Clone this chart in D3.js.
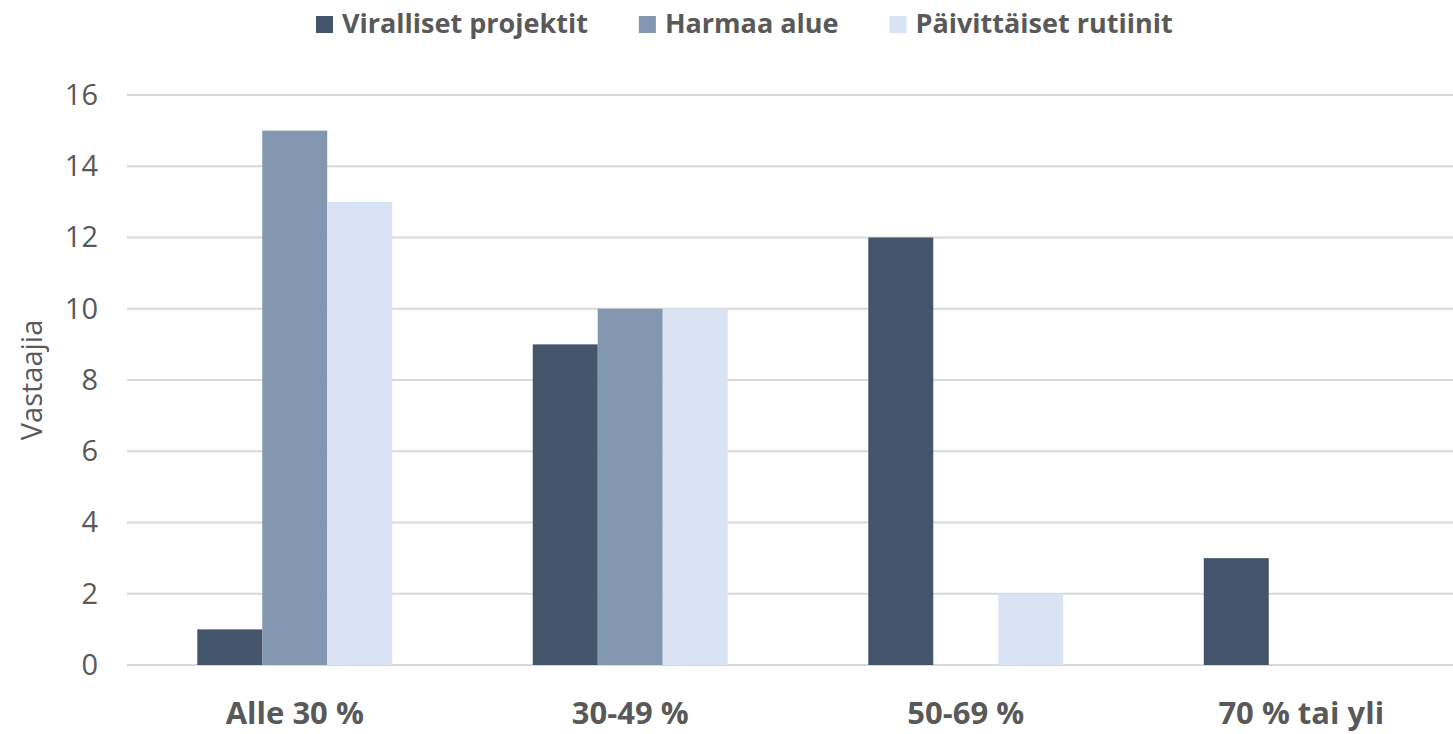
<!DOCTYPE html>
<html>
<head>
<meta charset="utf-8">
<script src="https://cdn.jsdelivr.net/npm/d3@7"></script>
<style>
  body { margin: 0; background: #fff; }
  svg { display: block; font-family: "Open Sans", sans-serif; }
</style>
</head>
<body>
<svg id="chart"></svg>
<script>
const categories = ["Alle 30 %", "30-49 %", "50-69 %", "70 % tai yli"];
const seriesNames = ["Viralliset projektit", "Harmaa alue", "Päivittäiset rutiinit"];
const viralliset = [1, 9, 12, 3];
const harmaa = [15, 10, 0, 0];
const rutiinit = [13, 10, 2, 0];
const yTicks = [0, 2, 4, 6, 8, 10, 12, 14, 16];
const colors = ["#44546a", "#8497b0", "#dae3f3"];

const width = 1453;
const height = 734;

const svg = d3.select('#chart')
    .attr('width', width)
    .attr('height', height);

const seriesValues = [viralliset, harmaa, rutiinit];

// Plot area (right edge runs a little past the window, like the source crop)
const x0 = d3.scaleBand()
    .domain(categories)
    .range([127, 1469])
    .paddingInner(0.419)
    .paddingOuter(0.2095);

const x1 = d3.scaleBand()
    .domain(seriesNames)
    .range([0, x0.bandwidth()]);

const y = d3.scaleLinear()
    .domain([0, 16])
    .range([665, 95]);

// Gridlines
svg.append('g')
    .attr('class', 'grid')
    .selectAll('line')
    .data(yTicks)
    .enter().append('line')
    .attr('x1', 127)
    .attr('x2', width)
    .attr('y1', d => y(d))
    .attr('y2', d => y(d))
    .attr('stroke', '#d9d9d9')
    .attr('stroke-width', 2);

// Y axis labels
const yAxis = d3.axisLeft(y)
    .tickValues(yTicks)
    .tickSize(0)
    .tickPadding(0);

const yG = svg.append('g')
    .attr('transform', 'translate(98,0)')
    .call(yAxis);
yG.select('.domain').remove();
yG.selectAll('text')
    .attr('fill', '#595959')
    .style('font-family', '"Open Sans", sans-serif')
    .style('font-size', '29px');

// Bars
const groups = svg.append('g')
    .selectAll('g')
    .data(categories)
    .enter().append('g')
    .attr('transform', d => `translate(${x0(d)},0)`);

groups.selectAll('rect')
    .data((c, i) => seriesNames.map((s, j) => ({ series: s, idx: j, value: seriesValues[j][i] })))
    .enter().append('rect')
    .filter(d => d.value > 0)
    .attr('x', d => x1(d.series))
    .attr('width', x1.bandwidth())
    .attr('y', d => y(d.value))
    .attr('height', d => y(0) - y(d.value))
    .attr('fill', d => colors[d.idx]);

// X axis labels (baseline kept high enough that descenders stay inside)
const xAxis = d3.axisBottom(x0)
    .tickSize(0)
    .tickPadding(0);

const xG = svg.append('g')
    .attr('transform', 'translate(0,724)')
    .call(xAxis);
xG.select('.domain').remove();
xG.selectAll('text')
    .attr('y', 0)
    .attr('dy', 0)
    .attr('fill', '#595959')
    .style('font-family', '"Open Sans", sans-serif')
    .style('font-size', '31px')
    .style('font-weight', 'bold');

// Y axis title
svg.append('text')
    .attr('transform', 'translate(42,380) rotate(-90)')
    .attr('text-anchor', 'middle')
    .attr('fill', '#595959')
    .style('font-size', '29px')
    .text('Vastaajia');

// Legend
const legend = svg.append('g').attr('class', 'legend');
let lx = 316;
seriesNames.forEach((name, i) => {
    legend.append('rect')
        .attr('x', lx)
        .attr('y', 16)
        .attr('width', 17)
        .attr('height', 17)
        .attr('fill', colors[i]);
    const t = legend.append('text')
        .attr('x', lx + 26)
        .attr('y', 33)
        .attr('fill', '#595959')
        .style('font-size', '27px')
        .style('font-weight', 'bold')
        .text(name);
    lx += 26 + t.node().getComputedTextLength() + 51;
});
</script>
</body>
</html>
